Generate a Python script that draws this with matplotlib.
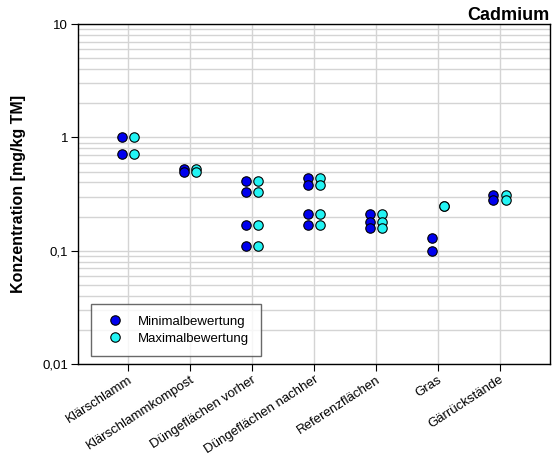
import matplotlib
matplotlib.use("Agg")
import matplotlib.pyplot as plt
from matplotlib.ticker import FixedLocator, LogLocator, NullFormatter

plt.rcParams['font.family'] = ['Liberation Sans', 'DejaVu Sans']

kategorien = ["Klärschlamm", "Klärschlammkompost", "Düngeflächen vorher",
              "Düngeflächen nachher", "Referenzflächen", "Gras", "Gärrückstände"]

# Cadmium-Gehalte je Kategorie in mg/kg TM
minimal = [
    [1.0, 0.72],
    [0.53, 0.50],
    [0.41, 0.33, 0.17, 0.11],
    [0.44, 0.38, 0.21, 0.17],
    [0.21, 0.18, 0.16],
    [0.13, 0.10],
    [0.31, 0.28],
]
maximal = [
    [1.0, 0.72],
    [0.53, 0.50],
    [0.41, 0.33, 0.17, 0.11],
    [0.44, 0.38, 0.21, 0.17],
    [0.21, 0.18, 0.16],
    [0.25, 0.25],
    [0.31, 0.28],
]

fig = plt.figure(figsize=(5.57, 4.55), dpi=100)
ax = fig.add_axes([0.140, 0.200, 0.847, 0.747])

for i, (mn, mx) in enumerate(zip(minimal, maximal)):
    pos = i + 1
    ax.plot([pos - 0.1] * len(mn), mn, 'o', color='#0000ee', mec='black',
            mew=0.8, ms=6.8, zorder=3, label="Minimalbewertung" if i == 0 else None)
    ax.plot([pos + 0.1] * len(mx), mx, 'o', color='#22f4f4', mec='black',
            mew=0.8, ms=6.8, zorder=3, label="Maximalbewertung" if i == 0 else None)

ax.set_yscale('log')
ax.set_ylim(0.01, 10)
ax.set_xlim(0.19, 7.81)

ax.yaxis.set_major_locator(FixedLocator([0.01, 0.1, 1, 10]))
ax.set_yticklabels(["0,01", "0,1", "1", "10"])
ax.yaxis.set_minor_locator(LogLocator(base=10, subs=range(2, 10)))
ax.yaxis.set_minor_formatter(NullFormatter())
ax.tick_params(axis='y', which='minor', length=0)
ax.tick_params(axis='both', which='major', direction='out', length=5,
               width=0.8, labelsize=9.5, color='black', pad=2)

ax.set_xticks(range(1, len(kategorien) + 1))
ax.set_xticklabels(kategorien, rotation=33, ha='right', rotation_mode='anchor',
                   fontsize=9.5)

ax.grid(True, which='both', axis='y', color='#d4d4d4', linewidth=1.0, zorder=0)
ax.grid(True, which='major', axis='x', color='#d4d4d4', linewidth=1.0, zorder=0)
ax.set_axisbelow(True)

for s in ax.spines.values():
    s.set_linewidth(1.0)
    s.set_color('black')

ax.set_ylabel("Konzentration [mg/kg TM]", fontsize=11.5, fontweight='bold', labelpad=12)
ax.set_title("Cadmium", loc='right', fontsize=13, fontweight='bold', pad=1)

leg = ax.legend(loc='lower left', bbox_to_anchor=(0.027, 0.024), fontsize=9.5,
                frameon=True, fancybox=False, shadow=False, borderpad=0.85,
                handletextpad=0.75, labelspacing=0.35, borderaxespad=0,
                handlelength=2.0)
leg.get_frame().set_edgecolor('#444444')
leg.get_frame().set_linewidth(1.0)

fig.savefig("out.png", dpi=100)
